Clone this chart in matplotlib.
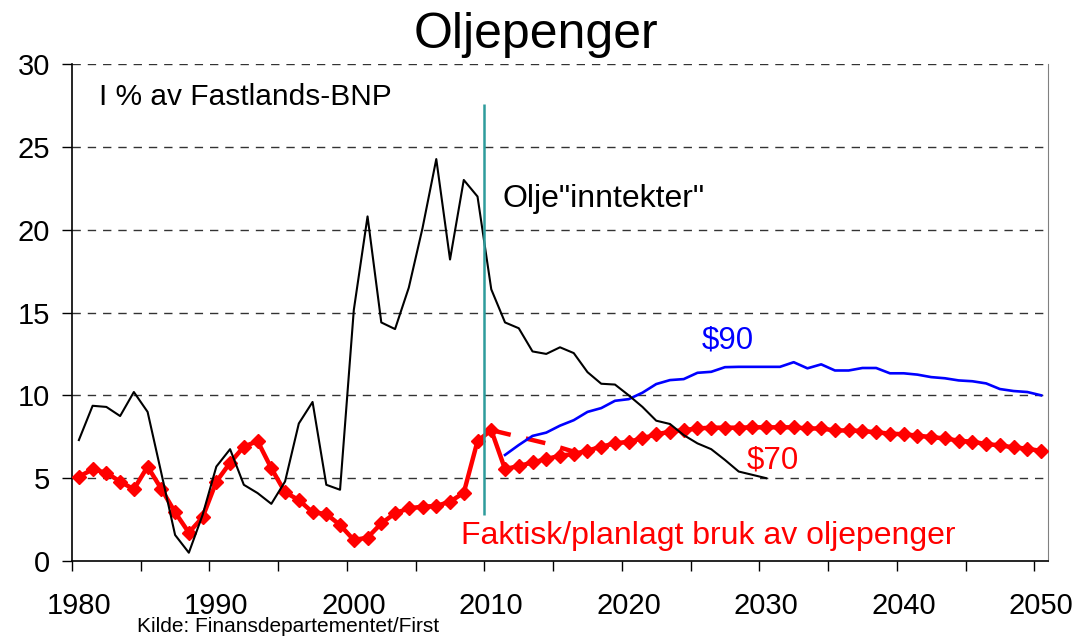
import matplotlib
matplotlib.use("Agg")
import matplotlib.pyplot as plt
import matplotlib.transforms as mtransforms
import numpy as np

plt.rcParams['font.family'] = ['Liberation Sans', 'DejaVu Sans']

# Oljeinntekter, i % av Fastlands-BNP (1980-2030)
oil_years = list(range(1980, 2031))
oil_income = [7.3, 9.37, 9.3, 8.75, 10.2, 9.0, 5.3, 1.57, 0.5, 2.78,
              5.7, 6.75, 4.6, 4.1, 3.45, 4.8, 8.3, 9.6, 4.6, 4.3,
              15.15, 20.8, 14.4, 14.0, 16.5, 20.1, 24.26, 18.2, 23.0, 22.0,
              16.4, 14.4, 14.05, 12.65, 12.5, 12.9, 12.55, 11.4, 10.7, 10.65,
              10.0, 9.3, 8.47, 8.27, 7.6, 7.1, 6.75, 6.1, 5.4, 5.2, 5.0]

# Bruk av oljepenger ved $90 (2011-2050)
usd90_years = list(range(2011, 2051))
usd90 = [6.4, 7.0, 7.55, 7.75, 8.17, 8.5, 9.0, 9.23, 9.67, 9.77,
         10.16, 10.68, 10.92, 10.98, 11.36, 11.42, 11.7, 11.72, 11.72, 11.72,
         11.72, 12.0, 11.63, 11.87, 11.5, 11.5, 11.65, 11.65, 11.33, 11.33,
         11.25, 11.1, 11.03, 10.9, 10.85, 10.72, 10.38, 10.26, 10.2, 10.0]

# Faktisk/planlagt bruk, $70 (1980-2050)
use_years = list(range(1980, 2051))
use_actual = [5.09, 5.53, 5.33, 4.79, 4.33, 5.7, 4.35, 2.94, 1.71, 2.64,
              4.79, 5.93, 6.9, 7.24, 5.6, 4.15, 3.68, 2.94, 2.84, 2.17,
              1.27, 1.41, 2.27, 2.88, 3.18, 3.28, 3.32, 3.58, 4.12, 7.24,
              7.9, 5.55, 5.73, 5.95, 6.15, 6.36, 6.46, 6.66, 6.9, 7.1,
              7.2, 7.4, 7.65, 7.8, 7.9, 8.0, 8.05, 8.05, 8.05, 8.07,
              8.07, 8.07, 8.07, 8.0, 8.0, 7.88, 7.88, 7.85, 7.77, 7.69,
              7.65, 7.57, 7.48, 7.4, 7.26, 7.2, 7.06, 6.98, 6.86, 6.78, 6.64]

# Handlingsregel-bane (stiplet)
rule_years = list(range(2010, 2017))
rule_path = [7.9, 7.7, 7.5, 7.3, 7.1, 6.85, 6.6]

# punktene ligger midt i året
def mid(years):
    return np.array(years) + 0.5

fig = plt.figure(figsize=(10.77, 6.36), dpi=100)
ax = fig.add_axes([72 / 1077, 75 / 636, 976 / 1077, 497 / 636])

for yv in range(5, 31, 5):
    ax.axhline(yv, color="#333333", lw=1.0, ls=(0, (6, 5)), zorder=1)

ax.plot(mid(use_years), use_actual, color="#FF0000", lw=3.2, marker="D",
        ms=7.5, zorder=3)
ax.plot(mid(rule_years), rule_path, color="#FF0000", lw=3.2,
        ls=(0, (4.5, 3.5)), zorder=3)
ax.plot(mid(usd90_years), usd90, color="#0000FF", lw=1.9, zorder=4)
ax.plot(mid(oil_years), oil_income, color="black", lw=1.5, zorder=5)
ax.vlines(2010, 2.8, 27.6, color="#2E9C9C", lw=1.8, zorder=6)

ax.set_xlim(1980, 2051)
ax.set_ylim(0, 30)
ax.set_yticks(range(0, 31, 5))
ax.set_xticks(range(1980, 2051, 5))
ax.set_xticklabels([])
ax.set_xticks(mid(range(1980, 2051, 10)), minor=True)
ax.set_xticklabels([str(y) for y in range(1980, 2051, 10)], minor=True)
ax.tick_params(axis="x", which="major", direction="out", length=7, width=1)
ax.tick_params(axis="x", which="minor", length=0, pad=22, labelsize=21)
ax.tick_params(axis="y", direction="out", length=7, width=1, pad=9,
               labelsize=21)

ax.spines["top"].set_visible(False)
ax.spines["right"].set_color("#808080")
for s in ["left", "bottom"]:
    ax.spines[s].set_linewidth(1.2)

ax.text(1982.0, 27.5, "I % av Fastlands-BNP", fontsize=21.5, va="baseline")
ax.text(2011.3, 21.36, 'Olje"inntekter"', fontsize=23, va="baseline")
ax.text(2025.8, 12.85, "$90", fontsize=22.5, color="#0000FF", va="baseline")
ax.text(2029.1, 5.61, "$70", fontsize=22.5, color="#FF0000", va="baseline")
ax.text(2008.3, 1.03, "Faktisk/planlagt bruk av oljepenger", fontsize=23,
        color="#FF0000", va="baseline")

fig.text(536 / 1077, 1 - 48 / 636, "Oljepenger", fontsize=36, ha="center",
         va="baseline")
fig.text(137 / 1077, 4 / 636, "Kilde: Finansdepartementet/First",
         fontsize=15, va="baseline")

fig.savefig("out.png", dpi=100)
